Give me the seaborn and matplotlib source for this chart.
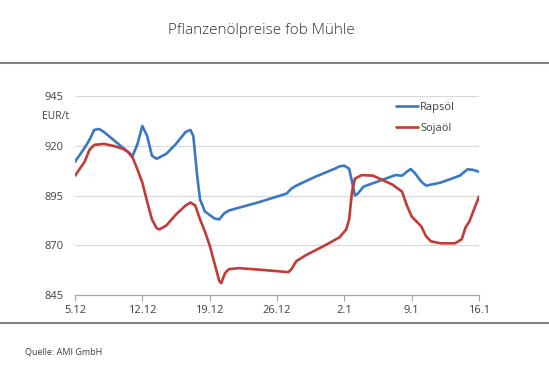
import matplotlib.pyplot as plt
import seaborn as sns
import pandas as pd

# data (x = days since 5.12)
raps_days = [0, 1, 1.5, 2, 2.5, 3, 4, 5, 6, 6.5, 7, 7.5, 8, 8.5, 9.5, 10.5, 11.5, 12, 12.3, 12.7,
             13, 13.5, 14.5, 15, 15.5, 16, 19, 22, 22.5, 23, 25, 27, 27.5, 28, 28.5, 28.8, 29.1,
             29.4, 30, 32, 33.3, 34, 34.5, 34.9, 35.3, 36, 36.5, 38, 40, 40.8, 41.3, 42]
raps_vals = [912, 919, 923, 928, 928.5, 927, 923, 919, 915, 921, 930, 925, 915, 913.5, 916, 921, 927, 928, 925, 905,
             893, 887, 883.5, 883, 886, 887.5, 891.5, 896, 898.5, 900, 904.5, 908.5, 909.7, 910, 908.5, 902, 895,
             896, 899.5, 903, 905.3, 905, 907, 908.3, 906.5, 902, 900, 901.5, 905, 908.2, 908, 907]

soja_days = [0, 1, 1.5, 2, 3, 4, 5, 5.5, 6, 6.5, 7, 7.5, 8, 8.5, 8.8, 9.5, 10.5, 11.5, 12, 12.5,
             13, 13.5, 14, 14.5, 15, 15.2, 15.6, 16, 17, 19, 21, 22.2, 22.5, 23, 24, 26, 27.5, 28.2,
             28.5, 28.8, 29.1, 29.8, 31, 33, 34, 34.5, 35, 35.5, 36, 36.5, 37, 38, 39.5, 40.2, 40.6, 41, 42]
soja_vals = [905, 912, 918, 920.5, 921, 920, 918.5, 917, 914, 908, 901.5, 892, 883, 878.5, 878, 880, 885.5, 890, 891.5, 890,
             883, 877, 870, 861, 852, 851, 856, 858, 858.5, 857.8, 857, 856.5, 858, 862, 865, 870, 874, 878,
             883, 897, 903.5, 905.3, 905, 900.5, 897, 890, 884.5, 882, 879.5, 874.5, 872, 871, 871, 873, 879, 882, 894.5]

tick_days = [0, 7, 14, 21, 28, 35, 42]
tick_labels = ["5.12", "12.12", "19.12", "26.12", "2.1", "9.1", "16.1"]
y_ticks = [845, 870, 895, 920, 945]

df = pd.concat([
    pd.DataFrame({"tag": raps_days, "preis": raps_vals, "sorte": "Rapsöl"}),
    pd.DataFrame({"tag": soja_days, "preis": soja_vals, "sorte": "Sojaöl"}),
])

sns.set_style("white")
plt.rcParams['font.family'] = ['Open Sans', 'DejaVu Sans']

fig = plt.figure(figsize=(5.49, 3.77), dpi=100)
ax = fig.add_axes([0.1366, 0.2175, 0.7359, 0.5275])

sns.lineplot(data=df, x="tag", y="preis", hue="sorte", sort=False, estimator=None,
             palette={"Rapsöl": "#3b78c4", "Sojaöl": "#c23b37"}, linewidth=1.9, ax=ax)

ax.set_xlim(0, 42)
ax.set_ylim(845, 945)
ax.set_xticks(tick_days)
ax.set_xticklabels(tick_labels)
ax.set_yticks(y_ticks)
ax.set_xlabel("")
ax.set_ylabel("")
for y in y_ticks[1:]:
    ax.axhline(y, color="#d9d9d9", linewidth=0.9, zorder=0)
for side in ["top", "right", "left"]:
    ax.spines[side].set_visible(False)
ax.spines["bottom"].set_color("#a6a6a6")
ax.spines["bottom"].set_linewidth(0.9)
ax.tick_params(axis="x", bottom=True, direction="out", length=4, width=0.8, color="#a6a6a6",
               labelsize=8, labelcolor="#404040", pad=3)
ax.tick_params(axis="y", left=True, length=0, labelsize=8, labelcolor="#404040", pad=8)

ax.legend(frameon=False, loc="upper right", bbox_to_anchor=(0.965, 1.02), fontsize=8,
          handlelength=2.0, handletextpad=0.15, labelspacing=0.9, labelcolor="#404040")

fig.text(0.476, 0.92, "Pflanzenölpreise fob Mühle", ha="center", va="center",
         fontsize=11, fontweight="light", color="#333333")
fig.text(0.077, 0.69, "EUR/t", fontsize=7.5, color="#404040", va="center")
fig.text(0.045, 0.065, "Quelle: AMI GmbH", fontsize=6.5, color="#404040", va="center")

fig.add_artist(plt.Line2D([0, 1], [1 - 63 / 377] * 2, color="#808080", linewidth=1.5))
fig.add_artist(plt.Line2D([0, 1], [1 - 323 / 377] * 2, color="#808080", linewidth=1.5))

fig.savefig("out.png", dpi=100)
